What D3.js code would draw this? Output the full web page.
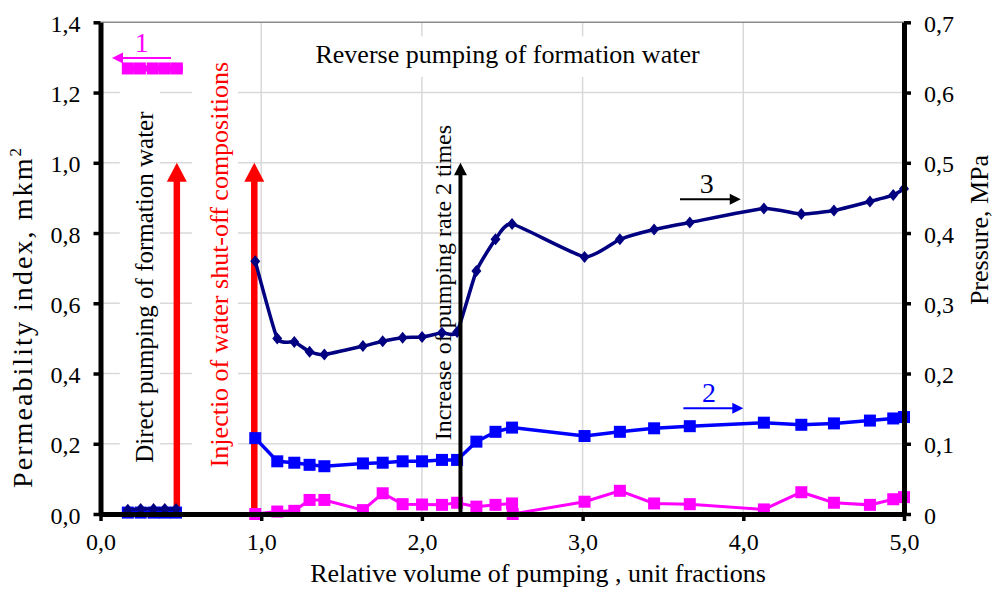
<!DOCTYPE html>
<html><head><meta charset="utf-8">
<script src="https://cdn.jsdelivr.net/npm/d3@7"></script>
<style>
body{margin:0;background:#fff}
svg{display:block}
</style>
</head><body>
<svg id="c" width="994" height="594"></svg>
<script>
// ---------- data ----------
const xTicks = [0, 1, 2, 3, 4, 5];
const leftTicks = [0, 0.2, 0.4, 0.6, 0.8, 1.0, 1.2, 1.4];
const rightTicks = [0, 0.1, 0.2, 0.3, 0.4, 0.5, 0.6, 0.7];

// direct pumping stage (before shut-off injection)
const xEarly = [0.17, 0.25, 0.33, 0.40, 0.47];
const pressure3Early = [0.006, 0.007, 0.007, 0.007, 0.007];
const pressure2Early = [0.002, 0.002, 0.002, 0.002, 0.002];

// reverse pumping stage
const xMain = [0.963, 1.10, 1.206, 1.301, 1.393, 1.633, 1.756, 1.880, 2.001, 2.125, 2.219, 2.339, 2.458, 2.561,
               3.012, 3.232, 3.445, 3.667, 4.128, 4.361, 4.564, 4.788, 4.933, 5.0];
const pressure3 = [0.360, 0.250, 0.245, 0.231, 0.227, 0.239, 0.246, 0.251, 0.252, 0.258, 0.259, 0.346, 0.391, 0.413,
                   0.366, 0.391, 0.405, 0.415, 0.435, 0.427, 0.432, 0.445, 0.454, 0.463];
const pressure2 = [0.108, 0.075, 0.073, 0.070, 0.068, 0.072, 0.073, 0.075, 0.075, 0.077, 0.077, 0.103, 0.117, 0.123,
                   0.111, 0.117, 0.122, 0.125, 0.130, 0.127, 0.129, 0.133, 0.136, 0.138];
const xPerm = [0.963, 1.10, 1.206, 1.301, 1.393, 1.633, 1.756, 1.880, 2.001, 2.125, 2.219, 2.339, 2.458, 2.561, 2.565,
               3.012, 3.232, 3.445, 3.667, 4.128, 4.361, 4.564, 4.788, 4.933, 5.0];
const perm1 = [0.000, 0.007, 0.009, 0.040, 0.040, 0.011, 0.059, 0.028, 0.027, 0.026, 0.032, 0.021, 0.026, 0.030, 0.000,
               0.035, 0.066, 0.030, 0.028, 0.013, 0.062, 0.032, 0.026, 0.042, 0.048];

const injectionX = [0.475, 0.957];   // red arrows
const rateIncreaseX = 2.24;          // black arrow
const arrowTop = 1.0;                // arrows reach 1.0 on left axis

// ---------- font detection (serif, Times-like) ----------
function hasFont(f) {
  const ctx = document.createElement("canvas").getContext("2d");
  const s = "mmmmmmmmmmlli1WWQ@#";
  for (const base of ["monospace", "sans-serif", "cursive"]) {
    ctx.font = `40px ${base}`;
    const a = ctx.measureText(s).width;
    ctx.font = `40px "${f}", ${base}`;
    const b = ctx.measureText(s).width;
    if (a !== b) return true;
  }
  return false;
}
const fontCandidates = ["Liberation Serif", "Times New Roman", "Tinos", "Nimbus Roman", "Nimbus Roman No9 L", "DejaVu Serif", "Noto Serif"];
const found = fontCandidates.find(hasFont);
const FONT = found ? `"${found}", serif` : "serif";

// ---------- layout ----------
const svg = d3.select("#c");
const X0 = 100.5, X1 = 904, Y0 = 514, Y1 = 22.3;
const x = d3.scaleLinear().domain([0, 5]).range([X0, X1]);
const yL = d3.scaleLinear().domain([0, 1.4]).range([Y0, Y1]);
const yR = d3.scaleLinear().domain([0, 0.7]).range([Y0, Y1]);
const comma = d => d.toFixed(1).replace(".", ",");

const NAVY = "#000080", BLUE = "#0000ff", MAG = "#ff00ff", RED = "#ff0000";

// gridlines
const grid = svg.append("g");
grid.selectAll("line.h").data(leftTicks.filter(d => d > 0 && d < 1.4)).join("line")
  .attr("x1", X0).attr("x2", X1).attr("y1", d => yL(d)).attr("y2", d => yL(d))
  .attr("stroke", "#d9d9d9").attr("stroke-width", 1.5);
grid.selectAll("line.v").data(xTicks.filter(d => d > 0 && d < 5)).join("line")
  .attr("x1", d => x(d)).attr("x2", d => x(d)).attr("y1", Y1).attr("y2", Y0)
  .attr("stroke", "#d9d9d9").attr("stroke-width", 1.5);
grid.append("line").attr("x1", X0).attr("x2", X1).attr("y1", Y1).attr("y2", Y1)
  .attr("stroke", "#8c8c8c").attr("stroke-width", 1.5);

// white text boxes
const boxes = [
  {x0: 0.12, x1: 0.37, y0: 1.23, y1: 0.03},
  {x0: 0.57, x1: 0.855, y0: 1.32, y1: 0.04},
  {x0: 1.24, x1: 3.83, y0: 1.36, y1: 1.245}
];
svg.append("g").selectAll("rect").data(boxes).join("rect")
  .attr("x", d => x(d.x0)).attr("width", d => x(d.x1) - x(d.x0))
  .attr("y", d => yL(d.y0)).attr("height", d => yL(d.y1) - yL(d.y0))
  .attr("fill", "#fff");

// annotation texts
const ann = svg.append("g");
ann.append("text").attr("x", x(2.533)).attr("y", yL(1.284)).attr("text-anchor", "middle")
  .attr("font-size", 26).text("Reverse pumping of formation water");
function vtext(px, py, size, color, str) {
  ann.append("text").attr("transform", `translate(${px},${py}) rotate(-90)`)
    .attr("text-anchor", "middle").attr("font-size", size).attr("fill", color).text(str);
}
vtext(x(0.327), yL(0.646), 25, "#000", "Direct pumping of formation water");
vtext(x(0.793), yL(0.710), 26, RED, "Injectio of water shut-off compositions");
vtext(x(2.181), yL(0.659), 24, "#000", "Increase of pumping rate 2 times");

// red arrows (behind series)
const ra = svg.append("g");
injectionX.forEach(v => {
  const cx = x(v), tip = yL(arrowTop);
  ra.append("line").attr("x1", cx).attr("x2", cx).attr("y1", Y0).attr("y2", tip + 16)
    .attr("stroke", RED).attr("stroke-width", 6.5);
  ra.append("path").attr("d", `M${cx},${tip} L${cx + 10},${tip + 19} L${cx - 10},${tip + 19} Z`).attr("fill", RED);
});

// ---------- series ----------
const sq = (g, pts, color, s) => g.selectAll("rect.m").data(pts).join("rect")
  .attr("x", d => d[0] - s / 2).attr("y", d => d[1] - s / 2).attr("width", s).attr("height", s).attr("fill", color);
const dia = (g, pts, color, w, h) => g.selectAll("path.m").data(pts).join("path")
  .attr("d", d => `M${d[0]},${d[1] - h} L${d[0] + w},${d[1]} L${d[0]},${d[1] + h} L${d[0] - w},${d[1]} Z`)
  .attr("fill", color);

// series 1: permeability (left axis)
const p1 = xPerm.map((v, i) => [x(v), yL(perm1[i])]);
const g1 = svg.append("g");
g1.append("path").attr("d", d3.line()(p1)).attr("fill", "none").attr("stroke", MAG).attr("stroke-width", 3);
sq(g1, p1, MAG, 12);

// series 2: pressure (right axis)
const p2 = xMain.map((v, i) => [x(v), yR(pressure2[i])]);
const p2e = xEarly.map((v, i) => [x(v), yR(pressure2Early[i])]);
const g2 = svg.append("g");
g2.append("path").attr("d", d3.line()(p2)).attr("fill", "none").attr("stroke", BLUE).attr("stroke-width", 3.5);
g2.append("path").attr("d", d3.line()(p2e)).attr("fill", "none").attr("stroke", BLUE).attr("stroke-width", 3.5);
sq(g2, p2.concat(p2e), BLUE, 12);

// series 3: pressure (right axis), smoothed line
const p3 = xMain.map((v, i) => [x(v), yR(pressure3[i])]);
const p3e = xEarly.map((v, i) => [x(v), yR(pressure3Early[i])]);
const g3 = svg.append("g");
const smooth = d3.line().curve(d3.curveCardinal.tension(0.5));
g3.append("path").attr("d", smooth(p3)).attr("fill", "none").attr("stroke", NAVY).attr("stroke-width", 3.5);
g3.append("path").attr("d", smooth(p3e)).attr("fill", "none").attr("stroke", NAVY).attr("stroke-width", 3.5);
dia(g3, p3.concat(p3e), NAVY, 5, 6);

// black arrow (in front)
{
  const cx = x(rateIncreaseX), tip = yL(arrowTop);
  svg.append("line").attr("x1", cx).attr("x2", cx).attr("y1", Y0).attr("y2", tip + 10)
    .attr("stroke", "#000").attr("stroke-width", 4);
  svg.append("path").attr("d", `M${cx},${tip} L${cx + 6.5},${tip + 12.5} L${cx - 6.5},${tip + 12.5} Z`).attr("fill", "#000");
}

// series labels with arrows
function hArrow(x1, x2, yy, color) {
  const dir = Math.sign(x2 - x1);
  svg.append("line").attr("x1", x1).attr("x2", x2 - dir * 9).attr("y1", yy).attr("y2", yy)
    .attr("stroke", color).attr("stroke-width", 2);
  svg.append("path").attr("d", `M${x2},${yy} L${x2 - dir * 11},${yy - 5.5} L${x2 - dir * 11},${yy + 5.5} Z`).attr("fill", color);
}
// "1" (left axis)
svg.append("text").attr("x", x(0.256)).attr("y", yL(1.3164)).attr("text-anchor", "middle")
  .attr("font-size", 28).attr("fill", MAG).text("1");
hArrow(x(0.4387), x(0.0716), yL(1.2985), MAG);
{
  const ly = yL(1.2686);
  svg.append("line").attr("x1", x(0.134)).attr("x2", x(0.513)).attr("y1", ly).attr("y2", ly)
    .attr("stroke", MAG).attr("stroke-width", 6);
  const lp = [0.17, 0.245, 0.325, 0.40, 0.475].map(v => [x(v), ly]);
  svg.append("g").call(g => sq(g, lp, MAG, 12));
}
// "2"
svg.append("text").attr("x", x(3.787)).attr("y", yR(0.160)).attr("text-anchor", "middle")
  .attr("font-size", 28).attr("fill", BLUE).text("2");
hArrow(x(3.627), x(4.0), yR(0.1505), BLUE);
// "3"
svg.append("text").attr("x", x(3.772)).attr("y", yR(0.4574)).attr("text-anchor", "middle")
  .attr("font-size", 28).attr("fill", "#000").text("3");
hArrow(x(3.606), x(3.984), yR(0.448), "#000");

// ---------- axes ----------
function styleAxis(g) {
  g.select(".domain").attr("stroke", "#000").attr("stroke-width", 5);
  g.selectAll(".tick line").attr("stroke", "#000").attr("stroke-width", 3.5);
  g.selectAll(".tick text").attr("font-size", 24).attr("fill", "#000");
}
const axL = svg.append("g").attr("transform", `translate(${X0},0)`)
  .call(d3.axisLeft(yL).tickValues(leftTicks).tickFormat(comma).tickSize(7).tickSizeOuter(0).tickPadding(13));
styleAxis(axL); axL.selectAll(".tick text").attr("dy", "0.38em");
const axR = svg.append("g").attr("transform", `translate(${X1},0)`)
  .call(d3.axisRight(yR).tickValues(rightTicks).tickFormat(d => d === 0 ? "0" : comma(d)).tickSize(7).tickSizeOuter(0).tickPadding(13));
styleAxis(axR); axR.selectAll(".tick text").attr("dy", "0.38em");
const axB = svg.append("g").attr("transform", `translate(0,${Y0})`)
  .call(d3.axisBottom(x).tickValues(xTicks).tickFormat(comma).tickSize(7).tickSizeOuter(0));
styleAxis(axB); axB.selectAll(".tick text").attr("dy", null).attr("y", 36);

// axis titles
svg.append("text").attr("x", 538).attr("y", 582).attr("text-anchor", "middle").attr("font-size", 26)
  .text("Relative volume of pumping , unit fractions");
const lt = svg.append("text").attr("transform", "translate(32,318) rotate(-90)").attr("text-anchor", "middle")
  .attr("font-size", 28).attr("textLength", 340).attr("lengthAdjust", "spacing");
lt.append("tspan").text("Permeability index, mkm");
lt.append("tspan").attr("font-size", 17).attr("dy", -11).text("2");
svg.append("text").attr("transform", "translate(988,230) rotate(-90)").attr("text-anchor", "middle")
  .attr("font-size", 26).text("Pressure, MPa");

// apply font to every text
svg.selectAll("g").attr("font-family", null);
svg.selectAll("text").style("font-family", FONT);
</script>
</body></html>
